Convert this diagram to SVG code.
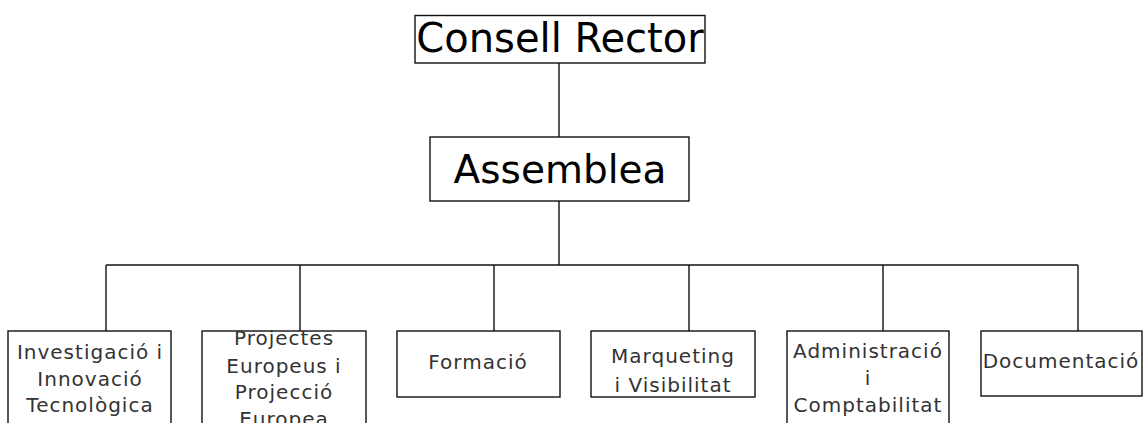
<svg xmlns="http://www.w3.org/2000/svg" width="1144" height="423" viewBox="0 0 1144 423">
<style>
.box{fill:#fff;stroke:#111;stroke-width:1.4}
.big{font-family:"DejaVu Sans",sans-serif;font-size:40px;fill:#000;text-anchor:middle}
.sm{font-family:"DejaVu Sans",sans-serif;font-size:20px;fill:#333;text-anchor:middle;letter-spacing:1px}
.con{stroke:#111;stroke-width:1.4;fill:none}
</style>
<rect width="1144" height="423" fill="#fff"/>
<g id="connectors">
<line class="con" x1="559" y1="63" x2="559" y2="137"/>
<line class="con" x1="559" y1="201" x2="559" y2="265"/>
<line class="con" x1="106" y1="265" x2="1078" y2="265"/>
<line class="con" x1="106" y1="265" x2="106" y2="331"/>
<line class="con" x1="300" y1="265" x2="300" y2="331"/>
<line class="con" x1="494" y1="265" x2="494" y2="331"/>
<line class="con" x1="689" y1="265" x2="689" y2="331"/>
<line class="con" x1="883" y1="265" x2="883" y2="331"/>
<line class="con" x1="1078" y1="265" x2="1078" y2="331"/>
</g>
<g id="consell">
<rect class="box" x="415" y="15.5" width="290" height="47.5"/>
<text class="big" x="560" y="52">Consell Rector</text>
</g>
<g id="assemblea">
<rect class="box" x="430" y="137" width="259" height="64"/>
<text class="big" x="560" y="183" style="font-size:39px">Assemblea</text>
</g>
<g id="investigacio">
<rect class="box" x="8" y="331" width="163" height="110"/>
<text class="sm" x="90" y="359">Investigació i</text>
<text class="sm" x="90" y="386">Innovació</text>
<text class="sm" x="90" y="412">Tecnològica</text>
</g>
<g id="projectes">
<rect class="box" x="202" y="331" width="164" height="110"/>
<text class="sm" x="284" y="345">Projectes</text>
<text class="sm" x="284" y="373">Europeus i</text>
<text class="sm" x="284" y="399">Projecció</text>
<text class="sm" x="284" y="426">Europea</text>
</g>
<g id="formacio">
<rect class="box" x="397" y="331" width="163" height="66"/>
<text class="sm" x="478" y="369">Formació</text>
</g>
<g id="marqueting">
<rect class="box" x="591" y="331" width="164" height="66"/>
<text class="sm" x="673" y="363">Marqueting</text>
<text class="sm" x="673" y="392">i Visibilitat</text>
</g>
<g id="administracio">
<rect class="box" x="787" y="331" width="162" height="110"/>
<text class="sm" x="868" y="358">Administració</text>
<text class="sm" x="868" y="385">i</text>
<text class="sm" x="868" y="412">Comptabilitat</text>
</g>
<g id="documentacio">
<rect class="box" x="981" y="331" width="161" height="65"/>
<text class="sm" x="1061" y="368">Documentació</text>
</g>
</svg>
